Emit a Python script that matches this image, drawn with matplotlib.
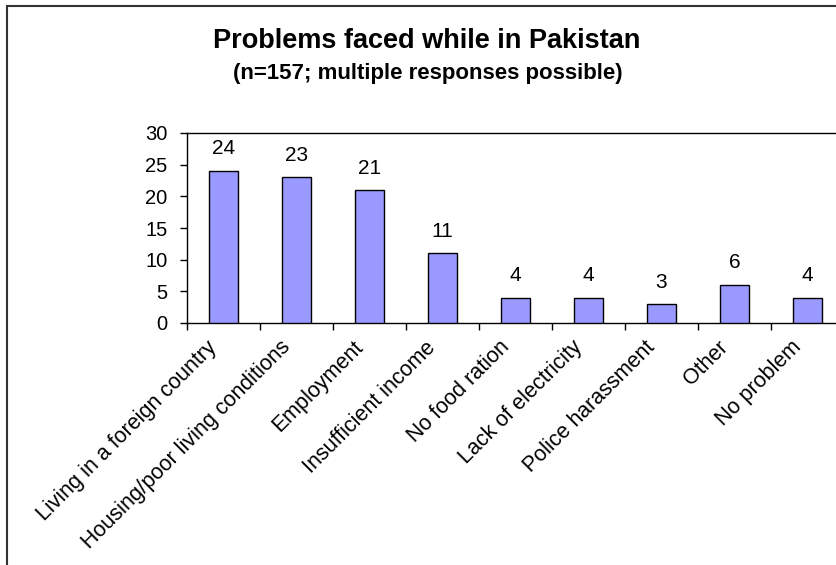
import numpy as np
import matplotlib
matplotlib.use("Agg")
from matplotlib import pyplot as plt
from matplotlib.patches import Rectangle
from matplotlib.transforms import ScaledTranslation

categories = ["Living in a foreign country", "Housing/poor living conditions",
              "Employment", "Insufficient income", "No food ration",
              "Lack of electricity", "Police harassment", "Other", "No problem"]
counts = [24, 23, 21, 11, 4, 4, 3, 6, 4]
yticks = [0, 5, 10, 15, 20, 25, 30]

plt.rcParams['font.family'] = ['Liberation Sans', 'DejaVu Sans']

fig = plt.figure(figsize=(8.37, 5.65), dpi=100)
ax = fig.add_axes([187/837, 1-323/565, 657/837, 190/565])

x = np.arange(len(categories))
ax.bar(x, counts, width=0.4, color='#9999ff', edgecolor='black', linewidth=1, zorder=3)
for xi, v in zip(x, counts):
    ax.annotate(str(v), (xi, v), xytext=(0, 9), textcoords='offset points',
                ha='center', va='bottom', fontsize=15)

ax.set_xlim(-0.5, len(categories) - 0.5)
ax.set_ylim(0, 30)
ax.set_yticks(yticks)
ax.tick_params(axis='y', direction='out', length=5, width=1, labelsize=14.5, pad=9)

# labels at centres, tick marks at category boundaries
ax.set_xticks(x)
ax.set_xticklabels(categories, rotation=45, ha='right', rotation_mode='anchor', fontsize=15.5)
ax.tick_params(axis='x', which='major', length=0, pad=10)
ax.set_xticks(np.arange(len(categories) + 1) - 0.5, minor=True)
ax.tick_params(axis='x', which='minor', direction='out', length=5, width=1)
# nudge the rotated labels left so they end just before the bar centre
shift = ScaledTranslation(-0.17, 0.0, fig.dpi_scale_trans)
for lbl in ax.get_xticklabels():
    lbl.set_transform(lbl.get_transform() + shift)

for s in ax.spines.values():
    s.set_linewidth(1)
    s.set_color('black')

fig.text(427/837, 1-41/565, "Problems faced while in Pakistan", ha='center', va='center',
         fontsize=19.5, fontweight='bold')
fig.text(428/837, 1-74/565, "(n=157; multiple responses possible)", ha='center', va='center',
         fontsize=16, fontweight='bold')

# chart frame (cut off on right and bottom)
fig.patches.append(Rectangle((7/837, -0.1), 1.2, 1.1 - 5.5/565, transform=fig.transFigure,
                             fill=False, edgecolor='#333333', linewidth=1.5))

fig.savefig("out.png", dpi=100)
